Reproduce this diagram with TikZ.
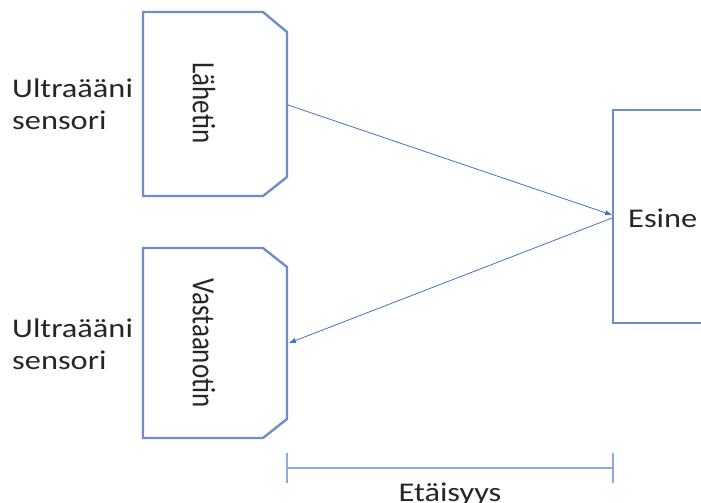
\documentclass[tikz,border=0pt]{standalone}
\usepackage{fontspec}
\setmainfont{Carlito}
\usetikzlibrary{arrows.meta}
\definecolor{boxblue}{HTML}{6F8FC2}
\definecolor{arrblue}{HTML}{4472C4}
\definecolor{dimblue}{HTML}{8FAADC}
\definecolor{txt}{HTML}{262626}
\newcommand{\hs}[1]{\scalebox{1.2}[1]{#1}}
\newcommand{\vs}[1]{\scalebox{1}[1.2]{#1}}
\tikzset{
  chambox/.style={draw=boxblue, line width=2.4pt, line join=miter},
  sig/.style={draw=arrblue, line width=0.8pt, -{Triangle[length=7pt,width=5pt]}},
  dimline/.style={draw=dimblue, line width=1.1pt},
  lbl/.style={font=\fontsize{27}{33}\selectfont, text=txt, inner sep=0pt},
}
\begin{document}
\begin{tikzpicture}[x=1pt,y=-1pt]
\useasboundingbox (0,0) rectangle (701,503);
\clip (0,0) rectangle (701,503);
% transmitter box
\draw[chambox] (143,12) -- (263,12) -- (287,32) -- (287,177) -- (263,196) -- (143,196) -- cycle;
\node[lbl, rotate=-90] (lah) at (204,103) {\vs{Lähetin}};
% receiver box
\draw[chambox] (143,248) -- (263,248) -- (287,267) -- (287,419) -- (263,438) -- (143,438) -- cycle;
\node[lbl, rotate=-90] (vas) at (204,343) {\vs{Vastaanotin}};
% object
\draw[chambox, line width=2.2pt] (613,110) rectangle (720,323);
\node[lbl, anchor=west] (esine) at (628,218) {\hs{Esine}};
% sensor labels
\node[lbl, anchor=west, align=left] (s1) at (12,104) {\hs{Ultraääni}\\[-1pt]\hs{sensori}};
\node[lbl, anchor=west, align=left] (s2) at (12,344) {\hs{Ultraääni}\\[-1pt]\hs{sensori}};
% signal arrows
\coordinate (txout) at (288,105);
\coordinate (objin) at (612,215);
\coordinate (objout) at (612,218);
\coordinate (rxin) at (289,343);
\draw[sig] (txout) -- (objin);
\draw[sig] (objout) -- (rxin);
% distance
\coordinate (dl) at (287,468);
\coordinate (dr) at (613,468);
\draw[dimline] (dl) -- (dr);
\draw[dimline] ([yshift=-15]dl) -- ([yshift=15]dl);
\draw[dimline] ([yshift=-15]dr) -- ([yshift=15]dr);
\node[lbl, anchor=base] (eta) at (450,501) {\hs{Etäisyys}};
\end{tikzpicture}
\end{document}
